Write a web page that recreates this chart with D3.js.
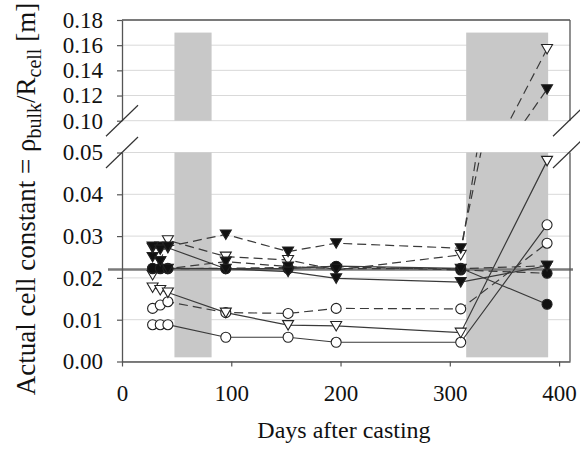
<!DOCTYPE html>
<html><head><meta charset="utf-8">
<script src="https://cdn.jsdelivr.net/npm/d3@7"></script>
<style>body{margin:0;background:#fff}</style></head>
<body>
<svg id="c" width="580" height="451"></svg>
<script>
// ---- data ----
const days = [28, 35, 42, 95, 152, 196, 310, 389];
const openCircleSolid   = [0.0088, 0.0088, 0.0088, 0.0058, 0.0058, 0.0046, 0.0046, 0.0327];
const openCircleDashed  = [0.0127, 0.0135, 0.0143, 0.0117, 0.0115, 0.0127, 0.0126, 0.0283];
const openTriSolid      = [0.0177, 0.0171, 0.0165, 0.0117, 0.0087, 0.0085, 0.0069, 0.0480];
const openTriDashed     = [0.0207, 0.0240, 0.0290, 0.0251, 0.0243, 0.0219, 0.0255, 0.1570];
const filledTriDashed   = [0.0275, 0.0268, 0.0275, 0.0304, 0.0263, 0.0283, 0.0271, 0.1250];
const filledTriSolid    = [0.0272, 0.0275, 0.0272, 0.0222, 0.0215, 0.0199, 0.0190, 0.0229];
const filledTriDashed2  = [0.0250, 0.0240, 0.0222, 0.0239, 0.0227, 0.0222, 0.0222, 0.0229];
const filledCircleSolid = [0.0223, 0.0223, 0.0223, 0.0222, 0.0222, 0.0228, 0.0223, 0.0137];
const filledCircleDashed= [0.0222, 0.0222, 0.0222, 0.0223, 0.0225, 0.0227, 0.0219, 0.0211];
const xTicks = [0, 100, 200, 300, 400];
const lowerTicks = [0.00, 0.01, 0.02, 0.03, 0.04, 0.05];
const upperTicks = [0.10, 0.12, 0.14, 0.16, 0.18];
const shadedPeriods = [[48, 82], [315, 390]];
const shadeBottom = 0.001, shadeTop = 0.17;
const referenceValue = 0.022;

const series = [
  {values: openCircleSolid,   marker: 'circle', filled: false, dashed: false},
  {values: openCircleDashed,  marker: 'circle', filled: false, dashed: true},
  {values: openTriSolid,      marker: 'tri',    filled: false, dashed: false},
  {values: openTriDashed,     marker: 'tri',    filled: false, dashed: true},
  {values: filledCircleDashed,marker: 'circle', filled: true,  dashed: true},
  {values: filledCircleSolid, marker: 'circle', filled: true,  dashed: false},
  {values: filledTriDashed2,  marker: 'tri',    filled: true,  dashed: true},
  {values: filledTriSolid,    marker: 'tri',    filled: true,  dashed: false},
  {values: filledTriDashed,   marker: 'tri',    filled: true,  dashed: true}
];

// ---- layout ----
const FONT = "'Liberation Serif', 'Times New Roman', serif";
const svg = d3.select('#c');
const x = d3.scaleLinear().domain([0, 410]).range([122, 570]);
const yLow = d3.scaleLinear().domain([0, 0.05]).range([361.5, 152.5]);
const yUp = d3.scaleLinear().domain([0.10, 0.18]).range([120.7, 20]);
const panels = [
  {id: 'low', y: yLow, ticks: lowerTicks},
  {id: 'up', y: yUp, ticks: upperTicks}
];
const defs = svg.append('defs');
panels.forEach(p => {
  const [y0, y1] = p.y.range();
  defs.append('clipPath').attr('id', 'clip-' + p.id).append('rect')
    .attr('x', x.range()[0]).attr('y', y1)
    .attr('width', x.range()[1] - x.range()[0]).attr('height', y0 - y1);
  defs.append('clipPath').attr('id', 'mclip-' + p.id).append('rect')
    .attr('x', x.range()[0] - 7).attr('y', y1 - 7)
    .attr('width', x.range()[1] - x.range()[0] + 14).attr('height', y0 - y1 + 14);
});

const triPath = 'M-5.5,-4.5L5.5,-4.5L0,5Z';

panels.forEach(p => {
  const y = p.y;
  const [yb, yt] = y.range();
  const g = svg.append('g');
  // gridlines
  g.selectAll('.grid').data(p.ticks).join('line')
    .attr('x1', x.range()[0]).attr('x2', x.range()[1])
    .attr('y1', d => y(d)).attr('y2', d => y(d))
    .attr('stroke', '#d9d9d9').attr('stroke-width', 1);
  // shaded periods
  g.append('g').attr('clip-path', `url(#clip-${p.id})`)
    .selectAll('rect').data(shadedPeriods).join('rect')
    .attr('x', d => x(d[0])).attr('width', d => x(d[1]) - x(d[0]))
    .attr('y', y(shadeTop)).attr('height', y(shadeBottom) - y(shadeTop))
    .attr('fill', '#c8c8c8');
  // reference line
  if (referenceValue >= y.domain()[0] && referenceValue <= y.domain()[1]) {
    g.append('line').attr('x1', 108).attr('x2', 573)
      .attr('y1', y(referenceValue)).attr('y2', y(referenceValue))
      .attr('stroke', '#7a7a7a').attr('stroke-width', 2.6);
  }
  // series lines
  const line = d3.line().x((d, i) => x(days[i])).y(d => y(d));
  g.append('g').attr('clip-path', `url(#clip-${p.id})`)
    .selectAll('path').data(series).join('path')
    .attr('d', s => line(s.values))
    .attr('fill', 'none').attr('stroke', '#3a3a3a').attr('stroke-width', 1.2)
    .attr('stroke-dasharray', s => s.dashed ? '9,5' : null);
  // markers
  const m = g.append('g').attr('clip-path', `url(#mclip-${p.id})`);
  series.forEach(s => {
    s.values.forEach((v, i) => {
      if (v < y.domain()[0] || v > y.domain()[1]) return;
      const tx = x(days[i]), ty = y(v);
      const fill = s.filled ? '#111' : '#fff';
      if (s.marker === 'circle') {
        m.append('circle').attr('cx', tx).attr('cy', ty).attr('r', 5)
          .attr('fill', fill).attr('stroke', '#222').attr('stroke-width', 1.1);
      } else {
        m.append('path').attr('d', triPath).attr('transform', `translate(${tx},${ty})`)
          .attr('fill', fill).attr('stroke', '#222').attr('stroke-width', 1.1);
      }
    });
  });
  // axis
  const ax = g.append('g').attr('transform', `translate(${x.range()[0]},0)`)
    .call(d3.axisLeft(y).tickValues(p.ticks).tickFormat(d3.format('.2f'))
      .tickSize(5).tickSizeOuter(0).tickPadding(14));
  ax.attr('font-family', null).attr('font-size', null);
  ax.select('.domain').attr('stroke', '#555').attr('stroke-width', 1.3);
  ax.selectAll('.tick line').attr('stroke', '#555').attr('stroke-width', 1.2);
  ax.selectAll('text').style('font-family', FONT).style('font-size', '23px').attr('fill', '#111');
  // right border
  g.append('line').attr('x1', x.range()[1]).attr('x2', x.range()[1])
    .attr('y1', yt).attr('y2', yb).attr('stroke', '#555').attr('stroke-width', 1.3);
});

// top border of upper panel
svg.append('line').attr('x1', x.range()[0]).attr('x2', x.range()[1])
  .attr('y1', yUp(0.18)).attr('y2', yUp(0.18)).attr('stroke', '#555').attr('stroke-width', 1.3);

// x axis
const xa = svg.append('g').attr('transform', `translate(0,${yLow(0)})`)
  .call(d3.axisBottom(x).tickValues(xTicks).tickFormat(d3.format('d'))
    .tickSize(5).tickSizeOuter(0).tickPadding(18));
xa.attr('font-family', null).attr('font-size', null);
xa.select('.domain').attr('stroke', '#555').attr('stroke-width', 1.3);
xa.selectAll('.tick line').attr('stroke', '#555').attr('stroke-width', 1.2);
xa.selectAll('text').style('font-family', FONT).style('font-size', '23px').attr('fill', '#111');

// break marks
const breakYs = [yUp(0.10), yLow(0.05)];
[x.range()[0], x.range()[1] - 1].forEach(bx => {
  breakYs.forEach(by => {
    svg.append('line').attr('x1', bx - 16).attr('y1', by + 15.5)
      .attr('x2', bx + 16).attr('y2', by - 15.5)
      .attr('stroke', '#333').attr('stroke-width', 1.2);
  });
});

// titles
svg.append('text').attr('x', 344).attr('y', 438).attr('text-anchor', 'middle')
  .style('font-family', FONT).style('font-size', '24px').attr('fill', '#111')
  .text('Days after casting');

const ytl = svg.append('text').attr('transform', 'translate(35,199) rotate(-90)')
  .attr('text-anchor', 'middle').style('font-family', FONT).style('font-size', '27px').attr('fill', '#111');
ytl.append('tspan').text('Actual cell constant = ρ');
ytl.append('tspan').attr('dy', 6).style('font-size', '20px').text('bulk');
ytl.append('tspan').attr('dy', -6).text('/R');
ytl.append('tspan').attr('dy', 6).style('font-size', '20px').text('cell');
ytl.append('tspan').attr('dy', -6).text(' [m]');
</script>
</body></html>
